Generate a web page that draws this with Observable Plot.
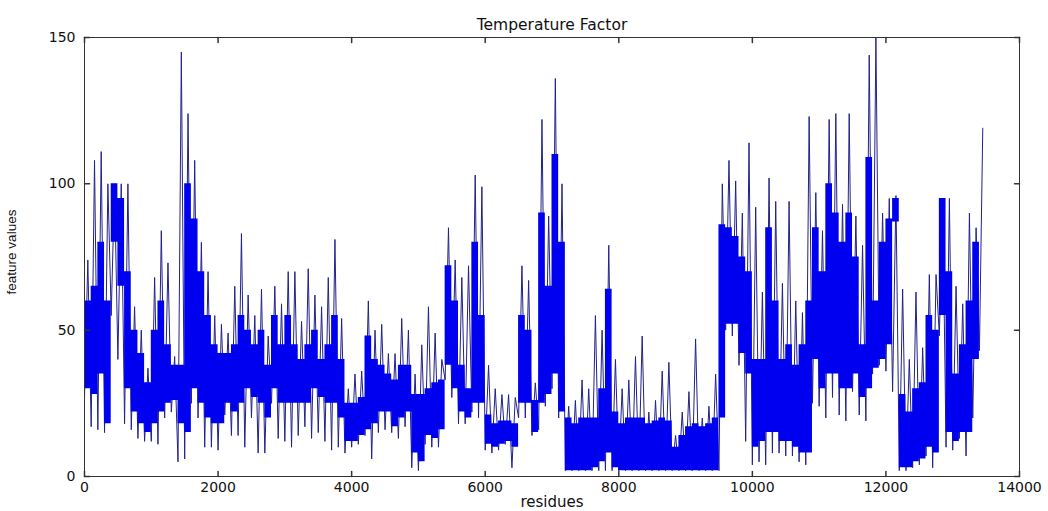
<!DOCTYPE html>
<html><head><meta charset="utf-8">
<script src="https://cdn.jsdelivr.net/npm/d3@7"></script>
<script src="https://cdn.jsdelivr.net/npm/@observablehq/plot@0.6"></script>
<style>
body{margin:0;background:#fff}
#chart{width:1048px;height:511px}
</style>
</head><body><div id="chart"></div>
<script>
// Residue bins (100 residues each)
const binStart = [0,100,200,300,400,500,600,700,800,900,1000,1100,1200,1300,1400,1500,1600,1700,1800,1900,2000,2100,2200,2300,2400,2500,2600,2700,2800,2900,3000,3100,3200,3300,3400,3500,3600,3700,3800,3900,4000,4100,4200,4300,4400,4500,4600,4700,4800,4900,5000,5100,5200,5300,5400,5500,5600,5700,5800,5900,6000,6100,6200,6300,6400,6500,6600,6700,6800,6900,7000,7100,7200,7300,7400,7500,7600,7700,7800,7900,8000,8100,8200,8300,8400,8500,8600,8700,8800,8900,9000,9100,9200,9300,9400,9500,9600,9700,9800,9900,10000,10100,10200,10300,10400,10500,10600,10700,10800,10900,11000,11100,11200,11300,11400,11500,11600,11700,11800,11900,12000,12100,12200,12300,12400,12500,12600,12700,12800,12900,13000,13100,13200,13300,13400];
// highest spike in each bin
const peak = [74,108,111,100,100,100,100,58,50,37,68,84,73,41,145,124,108,80,70,55,52,49,65,83,62,55,64,48,65,59,70,70,53,71,62,58,68,81,54,30,35,36,60,50,52,42,42,54,50,35,45,58,49,40,85,74,68,72,103,99,38,30,28,28,27,72,67,32,122,89,136,100,24,26,33,30,55,50,79,40,30,33,41,48,22,26,36,39,14,22,29,47,20,24,35,100,108,101,90,114,92,63,102,94,66,94,60,56,123,97,84,122,124,93,124,89,79,144,150,90,95,96,64,40,63,44,69,69,95,95,65,59,90,85,119];
// top of the dense core
const bandHi = [60,65,80,60,100,95,70,50,42,32,50,60,45,38,38,100,88,70,55,45,42,42,45,55,50,45,50,38,55,45,55,45,40,45,50,40,45,55,40,25,25,27,48,40,38,35,33,38,38,28,28,30,32,33,72,60,38,30,80,55,21,18,19,19,18,55,50,26,90,65,110,80,20,18,20,20,20,30,64,22,18,20,20,20,18,19,20,19,10,14,17,18,17,18,20,86,85,82,75,70,40,40,85,60,40,45,38,45,60,85,70,100,90,80,90,75,45,109,60,80,88,95,28,22,30,32,55,50,95,70,35,45,60,80,80];
// bottom of the dense core
const bandLo = [30,28,35,18,80,65,30,22,18,15,18,22,25,26,18,15,30,25,20,18,18,25,22,25,30,27,25,20,30,25,25,25,25,25,30,27,25,25,20,12,12,14,16,18,22,22,17,20,22,8,5,14,13,16,38,30,22,20,25,25,11,10,11,12,10,25,25,15,25,28,35,22,2,2,2,2,3,5,8,3,2,2,2,2,2,2,2,2,2,2,2,2,2,2,2,20,52,52,42,35,10,12,15,15,12,12,10,8,8,40,30,35,35,30,30,35,27,30,37,40,45,87,3,3,5,6,10,8,55,15,12,15,15,40,45];
// lowest dip in each bin
const dip = [27,17,16,15,55,40,18,16,13,12,12,11,20,22,5,6,25,20,10,10,9,21,14,14,10,20,8,8,25,13,12,10,14,17,13,15,12,9,10,8,10,11,14,6,15,16,15,13,17,3,2,11,10,10,33,27,18,18,22,20,9,8,9,11,3,20,20,14,16,24,30,20,2,2,2,2,2,2,2,2,2,2,2,2,2,2,2,2,2,2,2,2,2,2,2,2,50,48,38,12,4,5,4,8,8,7,7,5,4,25,24,20,27,21,19,29,21,19,35,38,36,29,2,2,3,4,7,3,48,10,9,13,7,20,43];

const xTicks = [0,2000,4000,6000,8000,10000,12000,14000];
const yTicks = [0,50,100,150];
const titleText = "Temperature Factor";
const xLabel = "residues";
const yLabel = "feature values";

const bins = binStart.map((r,i)=>({r, peak:peak[i], hi:bandHi[i], lo:bandLo[i], dip:dip[i]}));
const pts = [];
bins.forEach(b=>{ pts.push({x:b.r, y:b.dip}); pts.push({x:b.r+50, y:b.peak}); });

const tickShape = {draw(ctx, l){ ctx.moveTo(0,0); ctx.lineTo(0,-l); }};
const axisColor = "#333";
const font = "DejaVu Sans, Liberation Sans, sans-serif";
const chart = Plot.plot({
  width: 1048, height: 511,
  marginLeft: 84, marginRight: 29, marginTop: 37, marginBottom: 35,
  style: {fontFamily: font, fontSize: "14px", color: "#000", background: "#fff"},
  x: {domain: [0,14000], axis: null},
  y: {domain: [0,150], axis: null},
  marks: [
    Plot.line(pts, {x:"x", y:"y", stroke:"#22228a", strokeWidth:1}),
    Plot.areaY(bins, {x:"r", y1:"lo", y2:"hi", fill:"#0000f0", curve:"step-after"}),
    Plot.frame({stroke:axisColor, strokeWidth:1}),
    // inward ticks on all four sides
    Plot.vector(xTicks, {x:d=>d, frameAnchor:"bottom", length:5, rotate:0, anchor:"start", shape:tickShape, stroke:axisColor}),
    Plot.vector(xTicks, {x:d=>d, frameAnchor:"top", length:5, rotate:180, anchor:"start", shape:tickShape, stroke:axisColor}),
    Plot.vector(yTicks, {y:d=>d, frameAnchor:"left", length:5, rotate:90, anchor:"start", shape:tickShape, stroke:axisColor}),
    Plot.vector(yTicks, {y:d=>d, frameAnchor:"right", length:5, rotate:-90, anchor:"start", shape:tickShape, stroke:axisColor}),
    // tick labels
    Plot.text(xTicks, {x:d=>d, frameAnchor:"bottom", text:d=>String(d), lineAnchor:"top", dy:6, fontSize:14, letterSpacing:"2px", fill:"#111"}),
    Plot.text(yTicks, {y:d=>d, frameAnchor:"left", text:d=>String(d), textAnchor:"end", dx:-9, fontSize:14, letterSpacing:"2px", fill:"#111"}),
    // title and axis labels
    Plot.text([titleText], {frameAnchor:"top", dy:-19, fontSize:15.5, letterSpacing:"2.4px", fill:"#111"}),
    Plot.text([xLabel], {frameAnchor:"bottom", dy:30, fontSize:15, letterSpacing:"2.6px", fill:"#111"}),
    Plot.text([yLabel], {frameAnchor:"left", textAnchor:"middle", dx:-73, dy:-5, rotate:-90, fontSize:13.5, fontFamily:"Liberation Sans, sans-serif", fill:"#111"})
  ]
});
document.getElementById("chart").append(chart);
</script>
</body></html>
